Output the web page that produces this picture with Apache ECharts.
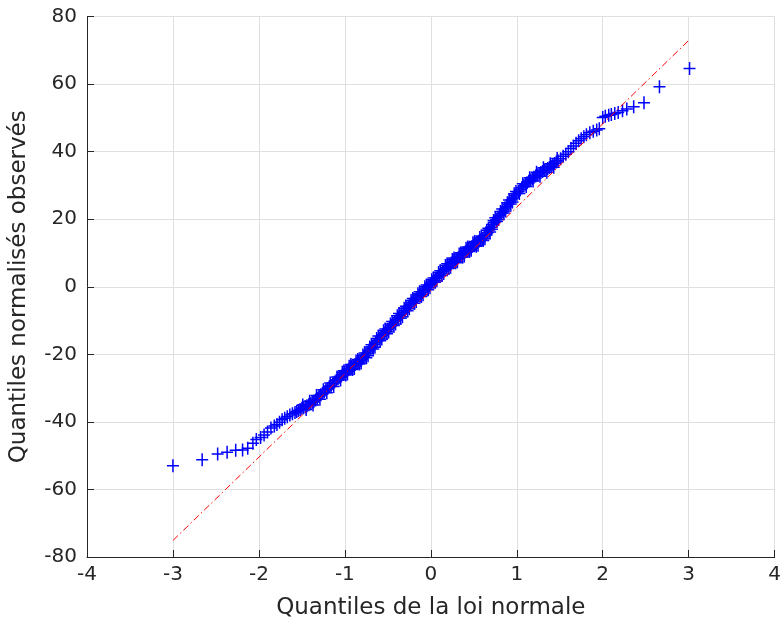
<!DOCTYPE html>
<html>
<head>
<meta charset="utf-8">
<script src="https://cdn.jsdelivr.net/npm/echarts@6/dist/echarts.min.js"></script>
<style>
html,body{margin:0;padding:0;background:#fff;}
#chart{width:784px;height:625px;}
</style>
</head>
<body>
<div id="chart"></div>
<script>
var qx = [
-3.00,-2.66,-2.48,-2.37,-2.27,-2.19,-2.13,-2.07,-2.03,-1.98,-1.94,-1.90,-1.86,-1.82,
-1.79,-1.76,-1.73,-1.70,-1.67,-1.64,-1.61,-1.58,-1.56,-1.54,-1.52,-1.50,-1.48,-1.46,-1.44,-1.42,
-1.40,-1.38,-1.36,-1.34,-1.32,-1.30,-1.28,-1.26,-1.24,-1.22,-1.20,-1.18,-1.16,-1.14,-1.12,-1.10,
-1.08,-1.06,-1.04,-1.02,-1.00,-0.98,-0.96,-0.94,-0.92,-0.90,-0.88,-0.86,-0.84,-0.82,-0.80,-0.78,
-0.76,-0.74,-0.72,-0.70,-0.68,-0.66,-0.64,-0.62,-0.60,-0.58,-0.56,-0.54,-0.52,-0.50,-0.48,-0.46,
-0.44,-0.42,-0.40,-0.38,-0.36,-0.34,-0.32,-0.30,-0.28,-0.26,-0.24,-0.22,-0.20,-0.18,-0.16,-0.14,
-0.12,-0.10,-0.08,-0.06,-0.04,-0.02,0.00,0.02,0.04,0.06,0.08,0.10,0.12,0.14,0.16,0.18,
0.20,0.22,0.24,0.26,0.28,0.30,0.32,0.34,0.36,0.38,0.40,0.42,0.44,0.46,0.48,0.50,
0.52,0.54,0.56,0.58,0.60,0.62,0.64,0.66,0.68,0.70,0.72,0.74,0.76,0.78,0.80,0.82,
0.84,0.86,0.88,0.90,0.92,0.94,0.96,0.98,1.00,1.02,1.04,1.06,1.08,1.10,1.12,1.14,
1.16,1.18,1.20,1.22,1.24,1.26,1.28,1.30,1.32,1.34,1.36,1.38,1.40,1.42,1.44,1.46,
1.48,1.51,1.54,1.57,1.60,1.63,1.66,1.69,1.72,1.75,1.78,1.81,1.85,1.89,1.93,1.96,
2.00,2.03,2.07,2.10,2.14,2.18,2.23,2.28,2.36,2.48,2.66,3.01
];
var qy = [
-53.0,-51.2,-49.5,-49.0,-48.4,-48.3,-47.8,-46.3,-45.2,-44.6,-43.9,-43.0,-41.8,-41.2,
-40.8,-40.1,-39.4,-38.9,-38.5,-38.0,-37.6,-37.2,-36.9,-36.6,-36.3,-36.0,-35.8,-35.5,-35.2,-34.9,
-34.6,-34.2,-33.9,-33.5,-33.0,-32.5,-32.0,-31.5,-31.1,-30.6,-30.1,-29.6,-29.2,-28.7,-28.2,-27.7,
-27.2,-26.8,-26.4,-25.9,-25.5,-25.0,-24.6,-24.2,-23.8,-23.4,-23.0,-22.6,-22.2,-21.8,-21.3,-20.8,
-20.3,-19.7,-19.0,-18.4,-17.8,-17.1,-16.5,-15.9,-15.3,-14.7,-14.2,-13.7,-13.2,-12.7,-12.1,-11.5,
-10.9,-10.3,-9.8,-9.2,-8.6,-8.1,-7.6,-7.0,-6.4,-5.8,-5.2,-4.7,-4.2,-3.7,-3.2,-2.7,
-2.2,-1.7,-1.2,-0.7,-0.1,0.4,0.9,1.4,1.9,2.5,3.0,3.5,4.0,4.6,5.1,5.6,
6.1,6.5,7.0,7.4,7.8,8.2,8.6,9.0,9.4,9.9,10.3,10.7,11.1,11.5,11.9,12.3,
12.7,13.1,13.5,13.9,14.3,14.8,15.4,16.0,16.8,17.6,18.4,19.1,19.8,20.5,21.1,21.7,
22.3,23.0,23.7,24.4,25.0,25.7,26.3,27.0,27.6,28.2,28.8,29.4,29.9,30.4,30.8,31.2,
31.6,32.0,32.4,32.8,33.1,33.4,33.8,34.1,34.4,34.7,35.0,35.3,35.7,36.1,36.5,36.9,
37.3,37.9,38.6,39.2,40.0,40.9,41.7,42.5,43.2,43.8,44.4,45.0,45.6,46.0,46.4,46.8,
50.1,50.5,50.8,51.0,51.3,51.6,52.1,52.6,53.3,54.5,59.2,64.6
];
// Extra points read at the edges of the dense central band (its spread)
var bandX = [
-1.49,-1.45,-1.41,-1.37,-1.33,-1.29,-1.25,-1.21,-1.17,-1.13,-1.09,-1.05,-1.01,-0.97,-0.93,-0.89,
-0.85,-0.81,-0.77,-0.73,-0.69,-0.65,-0.61,-0.57,-0.53,-0.49,-0.45,-0.41,-0.37,-0.33,-0.29,-0.25,
-0.21,-0.17,-0.13,-0.09,-0.05,-0.01,0.03,0.07,0.11,0.15,0.19,0.23,0.27,0.31,0.35,0.39,
0.43,0.47,0.51,0.55,0.59,0.63,0.67,0.71,0.75,0.79,0.83,0.87,0.91,0.95,0.99,1.03,
1.07,1.11,1.15,1.19,1.23,1.27,1.31,1.35,1.39,1.43,1.47
];
var bandY = [
-35.0,-36.3,-33.9,-35.0,-32.2,-33.3,-30.5,-31.4,-28.5,-29.5,-26.7,-27.6,-24.9,-25.8,-23.0,-24.2,
-21.5,-22.6,-19.6,-20.4,-17.2,-17.9,-14.6,-15.5,-12.5,-13.4,-10.3,-11.0,-7.9,-8.9,-5.8,-6.5,
-3.5,-4.4,-1.5,-2.4,0.5,-0.3,2.6,1.8,4.7,3.9,6.8,5.8,8.5,7.4,10.1,9.1,
11.8,10.8,13.4,12.3,15.0,14.2,17.3,17.0,20.4,19.9,23.0,22.4,25.7,25.1,28.2,27.6,
30.5,29.7,32.3,31.3,33.9,32.7,35.2,33.9,36.4,35.4,38.0
];
var band2X = [
-1.03,-0.99,-0.95,-0.91,-0.87,-0.83,-0.79,-0.75,-0.71,-0.67,-0.63,-0.59,-0.55,-0.51,-0.47,-0.43,
-0.39,-0.35,-0.31,-0.27,-0.23,-0.19,-0.15,-0.11,-0.07,-0.03,0.01,0.05,0.09,0.13,0.17,0.21,
0.25,0.29,0.33,0.37,0.41,0.45,0.49,0.53,0.57,0.61,0.65,0.69,0.73,0.77,0.81,0.85,
0.89,0.93,0.97
];
var band2Y = [
-25.3,-26.1,-23.5,-24.5,-22.0,-22.9,-20.2,-21.0,-17.8,-18.4,-15.3,-16.0,-13.0,-13.9,-11.0,-11.5,
-8.6,-9.3,-6.4,-7.1,-4.1,-4.9,-2.1,-2.9,0.0,-0.9,2.1,1.3,4.2,3.3,6.3,5.4,
8.1,7.1,9.7,8.7,11.4,10.4,13.0,12.0,14.6,13.7,16.7,16.2,19.6,19.3,22.3,21.8,
24.9,24.5,27.5
];
// Reference (fit) line end points
var refX = [-3, 3];
var refY = [-75.1, 72.9];
var xTicks = [-4, -3, -2, -1, 0, 1, 2, 3, 4];
var yTicks = [-80, -60, -40, -20, 0, 20, 40, 60, 80];

function pairs(xs, ys) { return xs.map(function (x, i) { return [x, ys[i]]; }); }
var pts = pairs(qx, qy).concat(pairs(bandX, bandY), pairs(band2X, band2Y));
var refPts = pairs(refX, refY);

var chart = echarts.init(document.getElementById('chart'), null, {renderer: 'canvas'});
var txt = '#262626';
var font = 'DejaVu Sans';
var plusPath = 'path://M5.25,0h1.5v13h-1.5z M0,5.75h12v1.5h-12z';
chart.setOption({
  animation: false,
  backgroundColor: '#ffffff',
  grid: {left: 86, right: 8, top: 16.5, bottom: 65, containLabel: false},
  xAxis: {
    type: 'value', min: xTicks[0], max: xTicks[xTicks.length - 1], interval: 1,
    name: 'Quantiles de la loi normale', nameLocation: 'middle', nameGap: 40,
    nameTextStyle: {color: txt, fontFamily: font, fontSize: 23},
    axisLine: {show: true, onZero: false, lineStyle: {color: txt, width: 1}},
    axisTick: {show: true, inside: true, length: 7, lineStyle: {color: txt}},
    axisLabel: {color: txt, fontFamily: font, fontSize: 20, margin: 8},
    splitLine: {show: true, lineStyle: {color: '#dfdfdf', width: 1}}
  },
  yAxis: {
    type: 'value', min: yTicks[0], max: yTicks[yTicks.length - 1], interval: 20,
    name: 'Quantiles normalisés observés', nameLocation: 'middle', nameGap: 56,
    nameTextStyle: {color: txt, fontFamily: font, fontSize: 23},
    axisLine: {show: true, onZero: false, lineStyle: {color: txt, width: 1}},
    axisTick: {show: true, inside: true, length: 7, lineStyle: {color: txt}},
    axisLabel: {color: txt, fontFamily: font, fontSize: 20, margin: 10},
    splitLine: {show: true, lineStyle: {color: '#dfdfdf', width: 1}}
  },
  series: [
    {
      type: 'scatter', data: pts, silent: true, z: 2,
      symbol: plusPath, symbolSize: [12, 13],
      itemStyle: {color: '#0000ff', opacity: 1}
    },
    {
      type: 'line', data: refPts, silent: true, z: 3, symbol: 'none',
      lineStyle: {color: '#ff0000', width: 1, type: [7, 3, 1.5, 3]}
    }
  ]
});
</script>
</body>
</html>
